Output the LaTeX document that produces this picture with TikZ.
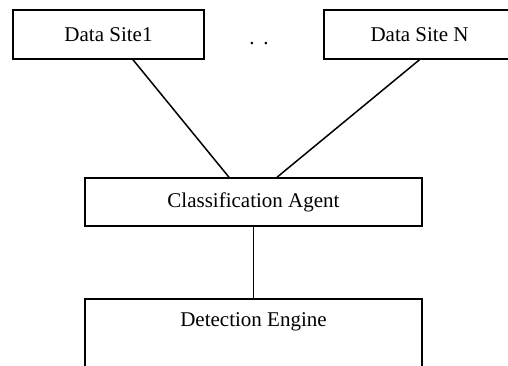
\documentclass[tikz,border=0pt]{standalone}
\usepackage{fontspec}
\setmainfont{Liberation Serif}
\begin{document}
\begin{tikzpicture}[x=1pt,y=-1pt,
  box/.style={draw, line width=1.5pt, inner sep=0pt},
  lbl/.style={font=\fontsize{21}{25}\selectfont, inner sep=0pt},
  link/.style={line width=1.5pt}]
\useasboundingbox (0,0) rectangle (508,366);
\clip (0,0) rectangle (508,366);
% data sites
\node[box, minimum width=191pt, minimum height=49pt] (s1) at (108.5,34.5) {};
\node[lbl] (s1t) at (s1) {Data Site1};
\node[box, minimum width=191pt, minimum height=49pt] (sn) at (419.5,34.5) {};
\node[lbl] (snt) at (sn) {Data Site N};
\node[lbl] (dots) at (259,43.5) {.\hspace{9pt}.};
% classification agent
\node[box, minimum width=337pt, minimum height=48pt] (ca) at (253.5,202) {};
\node[lbl] (cat) at (ca) {Classification Agent};
% detection engine, running past the lower edge
\node[box, minimum width=337pt, minimum height=120pt, anchor=north] (de) at (253.5,298) {};
\node[lbl] (det) at (253.5,322) {Detection Engine};
% connectors
\draw[link] ([xshift=24.5pt]s1.south) -- ([xshift=-24.5pt]ca.north);
\draw[link] (sn.south) -- ([xshift=23.5pt]ca.north);
\draw[link] (ca.south) -- (de.north);
\end{tikzpicture}
\end{document}
